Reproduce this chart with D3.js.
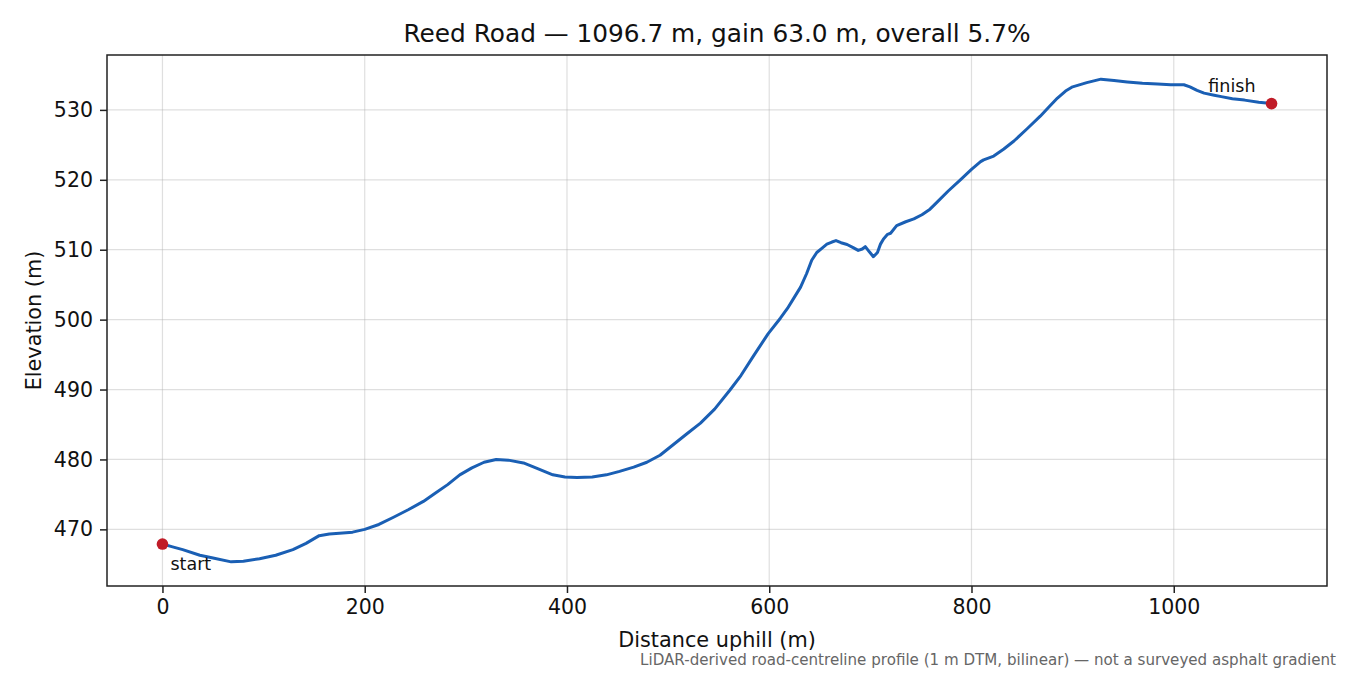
<!DOCTYPE html>
<html>
<head>
<meta charset="utf-8">
<script src="https://cdn.jsdelivr.net/npm/d3@7"></script>
<style>
  body { margin: 0; background: #fff; }
  svg { font-family: "DejaVu Sans", sans-serif; }
</style>
</head>
<body>
<svg id="chart"></svg>
<script>
// profile
const distance = [0, 10, 20, 37, 50, 68, 80, 96, 112, 129, 142, 155, 165, 175, 188, 200, 214, 228, 243, 258,
  270, 282, 294, 306, 318, 330, 342, 357, 371, 386, 398, 410, 425, 439, 452, 466, 479, 492, 505, 518,
  532, 546, 561, 572, 584, 599, 611, 618, 624, 631, 637, 642, 647, 652, 657, 662, 666, 671, 677, 683,
  688, 692, 695, 699, 703, 707, 710, 713, 717, 720, 726, 735, 743, 751, 759, 766, 777, 789, 800, 809,
  812, 822, 832, 842, 855, 868, 877, 885, 893, 900, 914, 928, 941, 954, 969, 984, 997, 1010, 1016, 1023,
  1030, 1040, 1047, 1058, 1070, 1084, 1096.7];
const elevation = [467.9, 467.5, 467.1, 466.3, 465.9, 465.35, 465.45, 465.8, 466.3, 467.1, 468.0, 469.1, 469.35, 469.45, 469.6, 470.0, 470.7, 471.7, 472.8, 474.0,
  475.2, 476.4, 477.8, 478.8, 479.6, 480.0, 479.9, 479.5, 478.7, 477.8, 477.5, 477.4, 477.5, 477.8, 478.3, 478.9, 479.6, 480.6, 482.1, 483.6,
  485.2, 487.2, 489.9, 492.0, 494.7, 498.0, 500.2, 501.6, 503.0, 504.65, 506.6, 508.5, 509.6, 510.2, 510.8, 511.1, 511.3, 511.0, 510.75, 510.3,
  509.9, 510.1, 510.45, 509.7, 509.0, 509.6, 510.8, 511.55, 512.2, 512.35, 513.45, 514.0, 514.4, 515.0, 515.8, 516.8, 518.4, 520.0, 521.5, 522.6,
  522.85, 523.4, 524.4, 525.55, 527.3, 529.1, 530.5, 531.7, 532.7, 533.3, 533.9, 534.4, 534.2, 534.0, 533.8, 533.7, 533.6, 533.6, 533.3, 532.8,
  532.4, 532.1, 531.9, 531.6, 531.4, 531.1, 530.9];
const xTicks = [0, 200, 400, 600, 800, 1000];
const yTicks = [470, 480, 490, 500, 510, 520, 530];
const endLabels = ["start", "finish"];

const data = distance.map((d, i) => ({ d, e: elevation[i] }));

const width = 1350;
const height = 675;
const margin = { top: 55, right: 23, bottom: 89, left: 107 };
const chartWidth = width - margin.left - margin.right;
const chartHeight = height - margin.top - margin.bottom;

const svg = d3.select("#chart").attr("width", width).attr("height", height);

// matplotlib-like 5% padding
const xExt = d3.extent(distance);
const yExt = d3.extent(elevation);
const xPad = (xExt[1] - xExt[0]) * 0.05;
const yPad = (yExt[1] - yExt[0]) * 0.05;

const xScale = d3.scaleLinear().domain([xExt[0] - xPad, xExt[1] + xPad]).range([0, chartWidth]);
const yScale = d3.scaleLinear().domain([yExt[0] - yPad, yExt[1] + yPad]).range([chartHeight, 0]);

const chart = svg.append("g").attr("transform", `translate(${margin.left},${margin.top})`);

// grid
chart.append("g")
  .selectAll("line.vg")
  .data(xTicks)
  .enter()
  .append("line")
  .attr("x1", d => xScale(d)).attr("x2", d => xScale(d))
  .attr("y1", 0).attr("y2", chartHeight)
  .attr("stroke", "#b0b0b0").attr("stroke-opacity", 0.4).attr("stroke-width", 1.2);

chart.append("g")
  .selectAll("line.hg")
  .data(yTicks)
  .enter()
  .append("line")
  .attr("y1", d => yScale(d)).attr("y2", d => yScale(d))
  .attr("x1", 0).attr("x2", chartWidth)
  .attr("stroke", "#b0b0b0").attr("stroke-opacity", 0.4).attr("stroke-width", 1.2);

// profile line
const line = d3.line().x(d => xScale(d.d)).y(d => yScale(d.e));
chart.append("path")
  .datum(data)
  .attr("d", line)
  .attr("fill", "none")
  .attr("stroke", "#1a5fb4")
  .attr("stroke-width", 3)
  .attr("stroke-linejoin", "round")
  .attr("stroke-linecap", "round");

// start / finish markers
const ends = [data[0], data[data.length - 1]];
chart.selectAll("circle.end")
  .data(ends)
  .enter()
  .append("circle")
  .attr("cx", d => xScale(d.d))
  .attr("cy", d => yScale(d.e))
  .attr("r", 5.8)
  .attr("fill", "#c01c28");

chart.append("text")
  .attr("x", xScale(ends[0].d) + 8)
  .attr("y", yScale(ends[0].e) + 26)
  .attr("font-size", 17.5)
  .attr("fill", "#111")
  .text(endLabels[0]);

chart.append("text")
  .attr("x", xScale(ends[1].d) - 16)
  .attr("y", yScale(ends[1].e) - 12)
  .attr("text-anchor", "end")
  .attr("font-size", 17.5)
  .attr("fill", "#111")
  .text(endLabels[1]);

// axes
const xAxis = chart.append("g")
  .attr("transform", `translate(0,${chartHeight})`)
  .call(d3.axisBottom(xScale).tickValues(xTicks).tickSize(7).tickPadding(6).tickFormat(d3.format("d")));
const yAxis = chart.append("g")
  .call(d3.axisLeft(yScale).tickValues(yTicks).tickSize(7).tickPadding(7).tickFormat(d3.format("d")));

[xAxis, yAxis].forEach(ax => {
  ax.select(".domain").remove();
  ax.selectAll(".tick line").attr("stroke", "#222").attr("stroke-width", 1.5);
  ax.selectAll(".tick text").attr("font-size", 20.5).attr("fill", "#111").attr("font-family", "DejaVu Sans");
});

// frame
chart.append("rect")
  .attr("width", chartWidth).attr("height", chartHeight)
  .attr("fill", "none").attr("stroke", "#222").attr("stroke-width", 1.5);

// labels
svg.append("text")
  .attr("x", margin.left + chartWidth / 2)
  .attr("y", 42)
  .attr("text-anchor", "middle")
  .attr("font-size", 24.8)
  .attr("fill", "#111")
  .text("Reed Road \u2014 1096.7 m, gain 63.0 m, overall 5.7%");

svg.append("text")
  .attr("x", margin.left + chartWidth / 2)
  .attr("y", 647)
  .attr("text-anchor", "middle")
  .attr("font-size", 20.8)
  .attr("fill", "#111")
  .text("Distance uphill (m)");

svg.append("text")
  .attr("transform", `translate(41,${margin.top + chartHeight / 2}) rotate(-90)`)
  .attr("text-anchor", "middle")
  .attr("font-size", 20.8)
  .attr("fill", "#111")
  .text("Elevation (m)");

svg.append("text")
  .attr("x", 1336)
  .attr("y", 665)
  .attr("text-anchor", "end")
  .attr("font-size", 15.1)
  .attr("fill", "#666")
  .text("LiDAR-derived road-centreline profile (1 m DTM, bilinear) \u2014 not a surveyed asphalt gradient");
</script>
</body>
</html>
